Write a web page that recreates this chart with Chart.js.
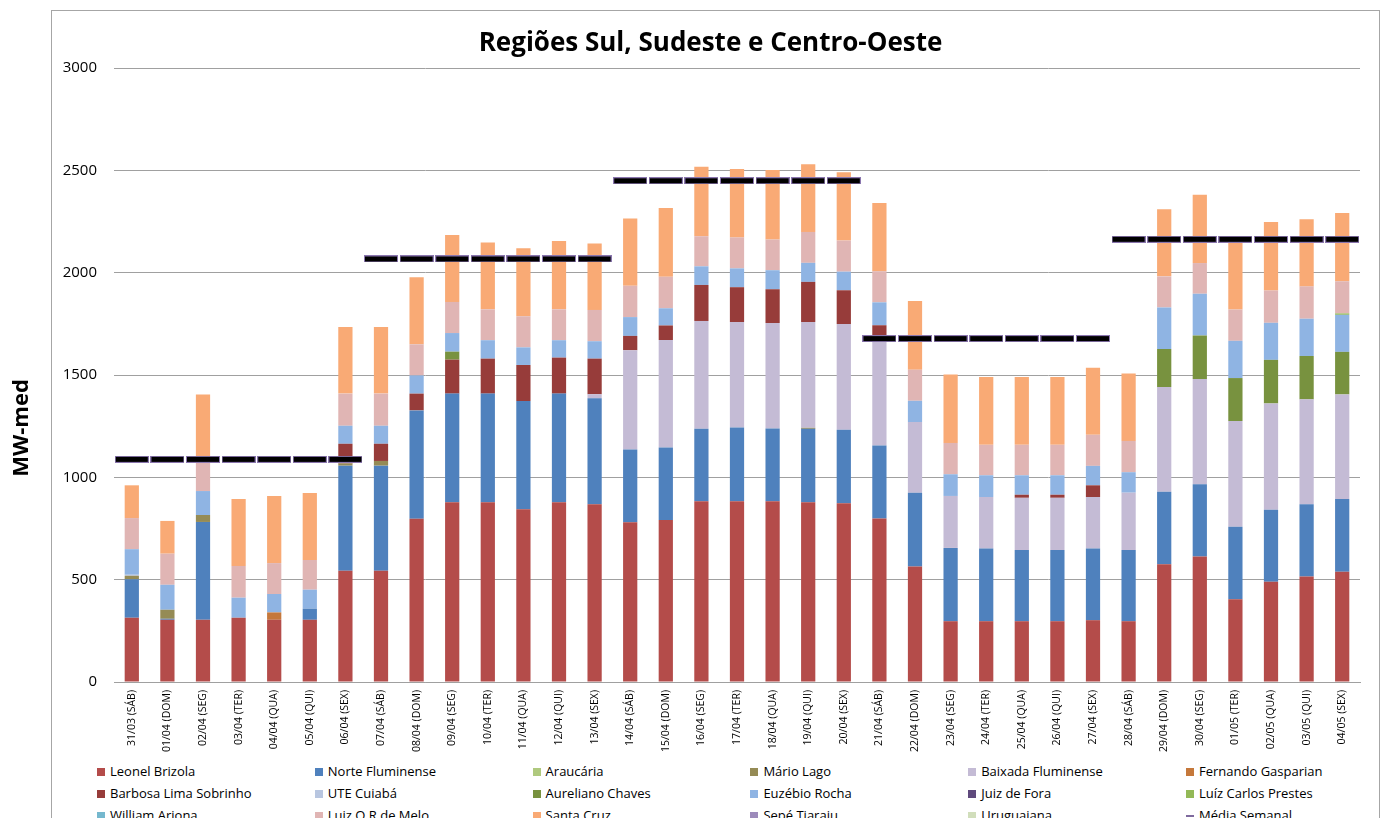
<!DOCTYPE html>
<html lang="pt-BR">
<head>
<meta charset="UTF-8">
<title>Regiões Sul, Sudeste e Centro-Oeste</title>
<script src="https://cdn.jsdelivr.net/npm/chart.js"></script>
<style>
   html, body { margin: 0; padding: 0; background: #fff; }
   body { width: 1387px; height: 818px; overflow: hidden; position: relative; font-family: 'Open Sans', sans-serif; }
   .frame { position: absolute; left: 51px; top: 10px; width: 1329px; height: 900px; border: 1px solid #a6a6a6; box-sizing: border-box; }
   #myChart { position: absolute; left: 0; top: 0; }
   #legend { position: absolute; left: 0; top: 760px; width: 1387px; height: 66px; }
   .item { position: absolute; height: 22px; line-height: 22px; font-size: 13px; color: #000; white-space: nowrap; }
   .box { display: inline-block; width: 8px; height: 8px; margin-right: 5px; vertical-align: middle; position: relative; top: -1px; }
   .dash { display: inline-block; width: 8px; height: 2px; margin-right: 5px; vertical-align: middle; position: relative; top: -1px; }
</style>
</head>
<body>
<div class="frame"></div>
<canvas id="myChart" width="1387" height="760"></canvas>
<div id="legend"></div>
<script>
   const days = ['31/03 (SÁB)', '01/04 (DOM)', '02/04 (SEG)', '03/04 (TER)', '04/04 (QUA)', '05/04 (QUI)', '06/04 (SEX)',
      '07/04 (SÁB)', '08/04 (DOM)', '09/04 (SEG)', '10/04 (TER)', '11/04 (QUA)', '12/04 (QUI)', '13/04 (SEX)',
      '14/04 (SÁB)', '15/04 (DOM)', '16/04 (SEG)', '17/04 (TER)', '18/04 (QUA)', '19/04 (QUI)', '20/04 (SEX)',
      '21/04 (SÁB)', '22/04 (DOM)', '23/04 (SEG)', '24/04 (TER)', '25/04 (QUA)', '26/04 (QUI)', '27/04 (SEX)',
      '28/04 (SÁB)', '29/04 (DOM)', '30/04 (SEG)', '01/05 (TER)', '02/05 (QUA)', '03/05 (QUI)', '04/05 (SEX)'];

   // MW-med por usina
   const leonelBrizola = [314, 304, 304, 314, 304, 304, 544, 544, 798, 878, 878, 844, 878, 868, 780, 792, 883, 883, 883, 878, 873, 799, 564, 297, 297, 297, 297, 302, 297, 575, 613, 404, 490, 515, 539];
   const norteFluminense = [188, 5, 478, 0, 0, 54, 513, 513, 529, 531, 531, 529, 531, 518, 356, 354, 354, 361, 356, 359, 359, 356, 361, 358, 355, 348, 348, 350, 348, 355, 353, 354, 352, 354, 355];
   const araucaria = [0, 0, 0, 0, 0, 0, 0, 0, 0, 0, 0, 0, 0, 0, 0, 0, 0, 0, 0, 0, 0, 0, 0, 0, 0, 0, 0, 0, 0, 0, 0, 0, 0, 0, 0];
   const marioLago = [17, 44, 34, 0, 0, 0, 11, 23, 0, 0, 0, 0, 0, 0, 0, 0, 0, 0, 0, 5, 0, 0, 0, 0, 0, 0, 0, 0, 0, 0, 0, 0, 0, 0, 0];
   const baixadaFluminense = [0, 0, 0, 0, 0, 0, 0, 0, 0, 0, 0, 0, 0, 20, 485, 525, 527, 515, 515, 517, 517, 515, 345, 254, 252, 255, 255, 252, 280, 511, 514, 517, 519, 512, 511];
   const fernandoGasparian = [0, 0, 0, 0, 36, 0, 0, 0, 0, 0, 0, 0, 0, 0, 0, 0, 0, 0, 0, 0, 0, 0, 0, 0, 0, 0, 0, 0, 0, 0, 0, 0, 0, 0, 0];
   const barbosaLima = [0, 0, 0, 0, 0, 0, 96, 84, 82, 166, 171, 176, 176, 174, 70, 71, 176, 170, 165, 196, 165, 73, 0, 0, 0, 15, 15, 57, 0, 0, 0, 0, 0, 0, 0];
   const uteCuiaba = [5, 0, 0, 0, 0, 0, 0, 0, 0, 0, 0, 0, 0, 0, 0, 0, 0, 0, 0, 0, 0, 0, 0, 0, 0, 0, 0, 0, 0, 0, 0, 0, 0, 0, 0];
   const aurelianoChaves = [0, 0, 0, 0, 0, 0, 0, 0, 0, 39, 0, 0, 0, 0, 0, 0, 0, 0, 0, 0, 0, 0, 0, 0, 0, 0, 0, 0, 0, 186, 213, 210, 213, 212, 208];
   const euzebioRocha = [125, 122, 117, 98, 90, 93, 88, 88, 89, 91, 90, 86, 85, 85, 92, 84, 91, 92, 93, 93, 91, 112, 104, 106, 106, 95, 95, 95, 100, 203, 204, 182, 181, 182, 181];
   const juizDeFora = [0, 0, 0, 0, 0, 0, 0, 0, 0, 0, 0, 0, 0, 0, 0, 0, 0, 0, 0, 0, 0, 0, 0, 0, 0, 0, 0, 0, 0, 0, 0, 0, 0, 0, 0];
   const luizCarlosPrestes = [0, 0, 0, 0, 0, 0, 0, 0, 0, 0, 0, 0, 0, 0, 0, 0, 0, 0, 0, 0, 0, 0, 0, 0, 0, 0, 0, 0, 0, 0, 0, 0, 0, 0, 7];
   const williamArjona = [0, 0, 0, 0, 0, 0, 0, 0, 0, 0, 0, 0, 0, 0, 0, 0, 0, 0, 0, 0, 0, 0, 0, 0, 0, 0, 0, 0, 0, 0, 0, 0, 0, 0, 0];
   const luizORMelo = [152, 152, 140, 155, 151, 145, 157, 157, 152, 152, 151, 152, 151, 153, 153, 154, 147, 151, 150, 151, 152, 152, 152, 153, 149, 149, 149, 152, 153, 152, 150, 153, 158, 158, 157];
   const santaCruz = [160, 160, 332, 327, 328, 327, 326, 326, 327, 327, 327, 332, 334, 325, 329, 336, 340, 335, 340, 331, 334, 333, 335, 334, 331, 331, 331, 328, 329, 328, 334, 332, 334, 328, 333];
   const sepeTiaraju = [0, 0, 0, 0, 0, 0, 0, 0, 0, 0, 0, 0, 0, 0, 0, 0, 0, 0, 0, 0, 0, 0, 0, 0, 0, 0, 0, 0, 0, 0, 0, 0, 0, 0, 0];
   const uruguaiana = [0, 0, 0, 0, 0, 0, 0, 0, 0, 0, 0, 0, 0, 0, 0, 0, 0, 0, 0, 0, 0, 0, 0, 0, 0, 0, 0, 0, 0, 0, 0, 0, 0, 0, 0];
   const mediaSemanal = [1088, 1088, 1088, 1088, 1088, 1088, 1088, 2067, 2067, 2067, 2067, 2067, 2067, 2067,
      2449, 2449, 2449, 2449, 2449, 2449, 2449, 1678, 1678, 1678, 1678, 1678, 1678, 1678,
      2163, 2163, 2163, 2163, 2163, 2163, 2163];

   const seriesNames = ['Leonel Brizola', 'Norte Fluminense', 'Araucária', 'Mário Lago', 'Baixada Fluminense', 'Fernando Gasparian',
      'Barbosa Lima Sobrinho', 'UTE Cuiabá', 'Aureliano Chaves', 'Euzébio Rocha', 'Juiz de Fora', 'Luíz Carlos Prestes',
      'William Arjona', 'Luiz O.R de Melo', 'Santa Cruz', 'Sepé Tiaraju', 'Uruguaiana'];
   const seriesData = [leonelBrizola, norteFluminense, araucaria, marioLago, baixadaFluminense, fernandoGasparian,
      barbosaLima, uteCuiaba, aurelianoChaves, euzebioRocha, juizDeFora, luizCarlosPrestes,
      williamArjona, luizORMelo, santaCruz, sepeTiaraju, uruguaiana];
   const seriesColors = ['#B44C4A', '#4F81BD', '#AFC97E', '#958B55', '#C4BBD5', '#C5783B',
      '#973C3A', '#B8C6E0', '#78923F', '#8FB4E3', '#5F4A7D', '#93B957',
      '#75B8CE', '#E0B5B4', '#F9AA75', '#9D8BBB', '#D1DEBB'];

   // marcador em traço (preto com contorno roxo) da média semanal
   function dashMarker() {
      const c = document.createElement('canvas');
      c.width = 34;
      c.height = 7;
      const g = c.getContext('2d');
      g.fillStyle = '#8A76AE';
      g.fillRect(0, 0, 34, 7);
      g.fillStyle = '#000';
      g.fillRect(1, 1, 32, 5);
      return c;
   }

   const datasets = seriesNames.map((name, i) => ({
      label: name,
      data: seriesData[i],
      backgroundColor: seriesColors[i],
      borderWidth: 0,
      barPercentage: 0.4,
      categoryPercentage: 1.0,
      stack: 'usinas',
      order: 1
   }));
   datasets.push({
      type: 'line',
      label: 'Média Semanal',
      data: mediaSemanal,
      stack: 'media',
      showLine: false,
      pointStyle: dashMarker(),
      borderColor: '#7F6A9E',
      backgroundColor: '#000',
      order: 0
   });

   const yAxisTitle = {
      id: 'yAxisTitle',
      afterDraw(chart) {
         const c = chart.ctx;
         c.save();
         c.translate(22, 428);
         c.rotate(-Math.PI / 2);
         c.font = "bold 22px 'Open Sans'";
         c.fillStyle = '#000';
         c.textAlign = 'center';
         c.textBaseline = 'middle';
         c.fillText('MW-med', 0, 0);
         c.restore();
      }
   };

   const font = "'Open Sans'";
   const ctx = document.getElementById('myChart').getContext('2d');
   const chart = new Chart(ctx, {
      type: 'bar',
      data: { labels: days, datasets: datasets },
      options: {
         responsive: false,
         animation: false,
         layout: { padding: { left: 61, right: 27, top: 0, bottom: 0 } },
         plugins: {
            legend: { display: false },
            tooltip: { enabled: false },
            title: {
               display: true,
               text: 'Regiões Sul, Sudeste e Centro-Oeste',
               color: '#000',
               font: { family: font, size: 26, weight: 'bold' },
               padding: { top: 28.4, bottom: 8.4 }
            }
         },
         scales: {
            x: {
               stacked: true,
               grid: { display: false, drawTicks: false },
               border: { display: true, color: '#a0a0a0' },
               ticks: { autoSkip: false, maxRotation: 90, minRotation: 90, padding: 8, color: '#000', font: { family: font, size: 10.5 } },
               afterFit(s) { s.height = 78; }
            },
            y: {
               stacked: true,
               min: 0,
               max: 3000,
               ticks: { stepSize: 500, padding: 17, color: '#000', font: { family: font, size: 15 }, callback: v => String(v) },
               grid: { color: '#a0a0a0', drawTicks: false },
               border: { display: false },
               afterFit(s) { s.width = 53; }
            }
         }
      },
      plugins: [yAxisTitle]
   });

   // legenda em grade de 6 colunas, como no original
   const legend = document.getElementById('legend');
   chart.data.datasets.forEach((ds, i) => {
      const item = document.createElement('div');
      item.className = 'item';
      item.style.left = (97 + (i % 6) * 217.8) + 'px';
      item.style.top = (Math.floor(i / 6) * 22) + 'px';
      const mark = document.createElement('span');
      if (ds.type === 'line') {
         mark.className = 'dash';
         mark.style.background = ds.borderColor;
      } else {
         mark.className = 'box';
         mark.style.background = ds.backgroundColor;
      }
      item.appendChild(mark);
      item.appendChild(document.createTextNode(ds.label));
      legend.appendChild(item);
   });
</script>
</body>
</html>
